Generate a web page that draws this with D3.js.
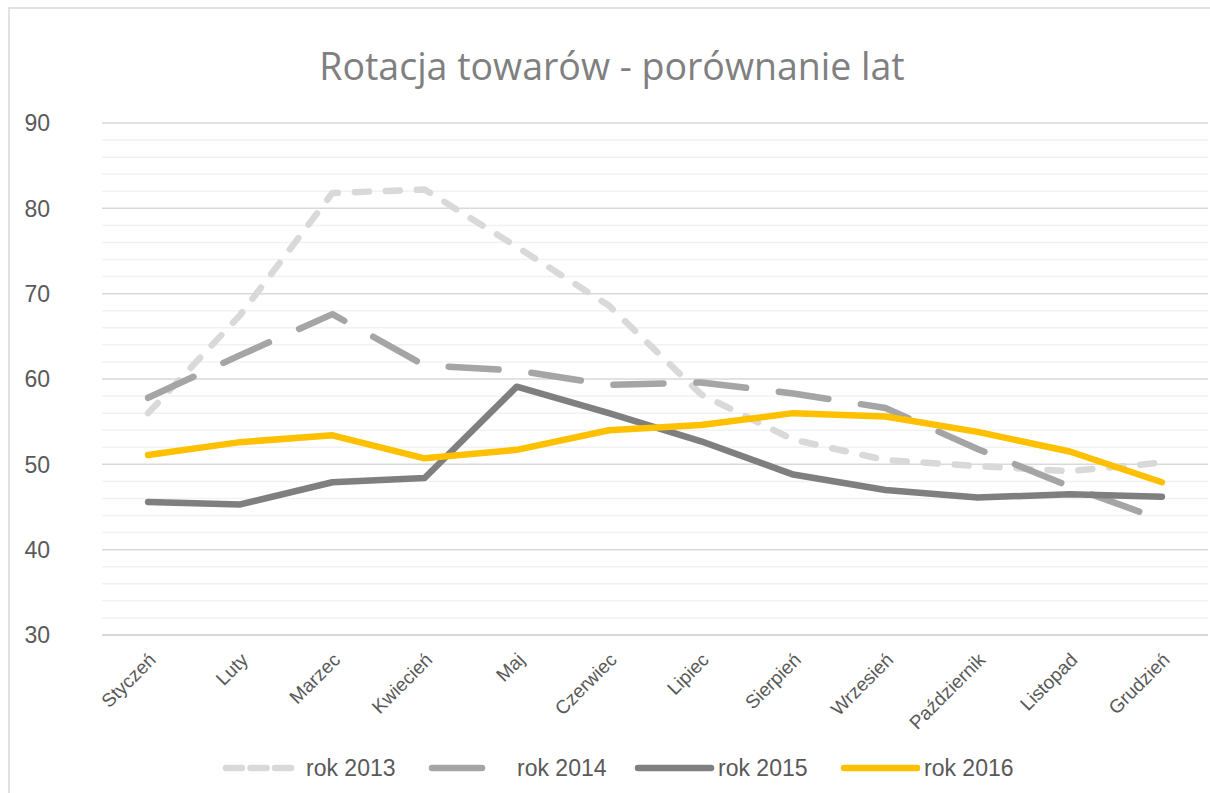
<!DOCTYPE html>
<html>
<head>
<meta charset="utf-8">
<script src="https://cdn.jsdelivr.net/npm/d3@7"></script>
<style>
  body { margin: 0; background: #fff; }
</style>
</head>
<body>
<div id="chart"></div>
<script>
// months on the category axis
const months = ["Styczeń", "Luty", "Marzec", "Kwiecień", "Maj", "Czerwiec",
                "Lipiec", "Sierpień", "Wrzesień", "Październik", "Listopad", "Grudzień"];

// values
const rok2013 = [56.0, 67.5, 81.8, 82.2, 75.5, 68.6, 58.2, 52.9, 50.5, 49.8, 49.2, 50.2];
const rok2014 = [57.8, 62.8, 67.6, 61.6, 61.0, 59.3, 59.6, 58.3, 56.6, 51.8, 47.4, 43.5];
const rok2015 = [45.6, 45.3, 47.9, 48.4, 59.1, 56.0, 52.7, 48.8, 47.0, 46.1, 46.5, 46.2];
const rok2016 = [51.1, 52.6, 53.4, 50.7, 51.7, 54.0, 54.6, 56.0, 55.6, 53.8, 51.5, 47.9];

const seriesNames = ["rok 2013", "rok 2014", "rok 2015", "rok 2016"];
const yTicks = [30, 40, 50, 60, 70, 80, 90];

const W = 1210, H = 793;

const svg = d3.select("#chart").append("svg")
    .attr("width", W)
    .attr("height", H);

// chart frame (right and bottom edges fall outside the picture)
svg.append("rect")
    .attr("x", 9).attr("y", 8)
    .attr("width", W + 20).attr("height", H + 20)
    .attr("fill", "#fff")
    .attr("stroke", "#d9d9d9")
    .attr("stroke-width", 1.5);

// title
svg.append("text")
    .attr("x", 612)
    .attr("y", 80)
    .attr("text-anchor", "middle")
    .attr("font-family", "'Open Sans', sans-serif")
    .attr("font-size", 37.5)
    .attr("fill", "#808080")
    .text("Rotacja towarów - porównanie lat");

// scales
const x = d3.scalePoint()
    .domain(months)
    .range([102, 1208])
    .padding(0.5);

const y = d3.scaleLinear()
    .domain([30, 90])
    .range([635, 123]);

// minor gridlines every 2
svg.append("g")
    .selectAll("line")
    .data(d3.range(32, 90, 2).filter(v => v % 10 !== 0))
  .enter().append("line")
    .attr("x1", 102).attr("x2", 1208)
    .attr("y1", d => y(d)).attr("y2", d => y(d))
    .attr("stroke", "#f2f2f2")
    .attr("stroke-width", 1.5);

// major gridlines
svg.append("g")
    .selectAll("line")
    .data(yTicks)
  .enter().append("line")
    .attr("x1", 102).attr("x2", 1208)
    .attr("y1", d => y(d)).attr("y2", d => y(d))
    .attr("stroke", "#d9d9d9")
    .attr("stroke-width", d => d === 30 ? 2 : 1.5);

// y tick labels
svg.append("g")
    .selectAll("text")
    .data(yTicks)
  .enter().append("text")
    .attr("x", 50)
    .attr("y", d => y(d))
    .attr("dy", "0.36em")
    .attr("text-anchor", "end")
    .attr("font-family", "'Liberation Sans', Arial, sans-serif")
    .attr("font-size", 23)
    .attr("fill", "#595959")
    .text(d => d);

// x tick labels, rotated
svg.append("g")
    .selectAll("text")
    .data(months)
  .enter().append("text")
    .attr("transform", d => "translate(" + (x(d) + 9) + ",661) rotate(-45)")
    .attr("text-anchor", "end")
    .attr("font-family", "'Liberation Sans', Arial, sans-serif")
    .attr("font-size", 19)
    .attr("fill", "#595959")
    .text(d => d);

// series styles
const series = [
    { name: seriesNames[0], values: rok2013, color: "#d9d9d9", dash: "14,17" },
    { name: seriesNames[1], values: rok2014, color: "#a5a5a5", dash: "50,33" },
    { name: seriesNames[2], values: rok2015, color: "#7f7f7f", dash: null },
    { name: seriesNames[3], values: rok2016, color: "#ffc000", dash: null }
];

const line = d3.line()
    .x((d, i) => x(months[i]))
    .y(d => y(d));

svg.append("g")
    .selectAll("path")
    .data(series)
  .enter().append("path")
    .attr("d", d => line(d.values))
    .attr("fill", "none")
    .attr("stroke", d => d.color)
    .attr("stroke-width", 6.5)
    .attr("stroke-linejoin", "round")
    .attr("stroke-linecap", "round")
    .attr("stroke-dasharray", d => d.dash);

// legend
const legendY = 768;
const legend = svg.append("g")
    .selectAll("g")
    .data(series)
  .enter().append("g")
    .attr("transform", (d, i) => "translate(" + (226 + i * 206) + "," + legendY + ")");

legend.append("line")
    .attr("x1", 0).attr("x2", 73)
    .attr("y1", 0).attr("y2", 0)
    .attr("stroke", d => d.color)
    .attr("stroke-width", 6.5)
    .attr("stroke-linecap", "round")
    .attr("stroke-dasharray", d => d.name === "rok 2013" ? "16,8.5" : d.dash);

legend.append("text")
    .attr("x", d => d.name === "rok 2014" ? 85 : 80)
    .attr("y", 0)
    .attr("dy", "0.36em")
    .attr("font-family", "'Liberation Sans', Arial, sans-serif")
    .attr("font-size", 23)
    .attr("fill", "#595959")
    .text(d => d.name);
</script>
</body>
</html>
